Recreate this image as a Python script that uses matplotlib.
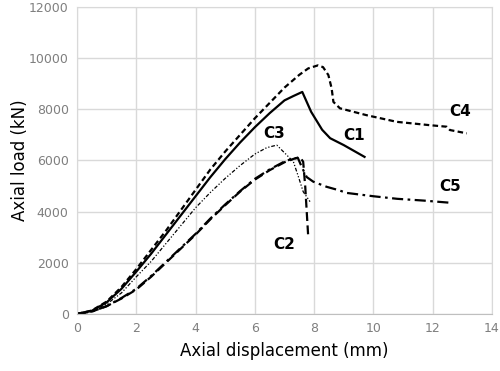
import matplotlib
matplotlib.use("Agg")
import matplotlib.pyplot as plt

# curves (displacement mm, load kN)
c1_x = [0, 0.5, 1.0, 1.5, 2.0, 2.5, 3.0, 3.5, 4.0, 4.5, 5.0, 5.5, 6.0, 6.5, 7.0, 7.3, 7.6, 7.9, 8.27, 8.54, 9.0, 9.7]
c1_y = [0, 120, 450, 980, 1650, 2350, 3100, 3850, 4600, 5350, 6050, 6700, 7300, 7850, 8350, 8520, 8680, 7900, 7200, 6870, 6600, 6140]

c2_x = [0, 0.5, 1.0, 1.5, 2.0, 2.5, 3.0, 3.5, 4.0, 4.5, 5.0, 5.5, 6.0, 6.5, 7.0, 7.3, 7.52, 7.63, 7.7, 7.8]
c2_y = [0, 90, 300, 600, 950, 1450, 2000, 2550, 3100, 3700, 4250, 4780, 5250, 5620, 5930, 6060, 6130, 5950, 4970, 3020]

c3_x = [0, 0.5, 1.0, 1.5, 2.0, 2.5, 3.0, 3.5, 4.0, 4.5, 5.0, 5.5, 6.0, 6.4, 6.74, 7.0, 7.3, 7.47, 7.63, 7.86]
c3_y = [0, 110, 380, 820, 1450, 2050, 2750, 3450, 4150, 4750, 5300, 5800, 6250, 6500, 6600, 6300, 5950, 5360, 4780, 4390]

c4_x = [0, 0.5, 1.0, 1.5, 2.0, 2.5, 3.0, 3.5, 4.0, 4.5, 5.0, 5.5, 6.0, 6.5, 7.0, 7.5, 7.8, 8.13, 8.3,
        8.48, 8.59, 8.65, 8.87, 9.77, 10.79, 11.9, 12.47, 12.58, 13.15]
c4_y = [0, 130, 480, 1050, 1750, 2500, 3250, 4050, 4850, 5650, 6350, 7000, 7650, 8250, 8850, 9350, 9600, 9720, 9650,
        9340, 8820, 8290, 8040, 7770, 7510, 7380, 7320, 7190, 7060]

c5_x = [0, 0.5, 1.0, 1.5, 2.0, 2.5, 3.0, 3.5, 4.0, 4.5, 5.0, 5.5, 6.0, 6.5, 7.0, 7.3, 7.45, 7.6, 7.75,
        7.97, 8.42, 8.82, 9.1, 10.0, 10.8, 11.7, 12.65]
c5_y = [0, 90, 300, 620, 980, 1480, 2030, 2580, 3130, 3730, 4280, 4800, 5280, 5650, 5960, 6080, 6100, 5700, 5350,
        5170, 4970, 4840, 4730, 4600, 4500, 4430, 4340]

x_ticks = [0, 2, 4, 6, 8, 10, 12, 14]
y_ticks = [0, 2000, 4000, 6000, 8000, 10000, 12000]

labels = ["C1", "C2", "C3", "C4", "C5"]
label_x = [9.33, 6.98, 6.65, 12.94, 12.58]
label_y = [6970, 2730, 7070, 7930, 4990]

fig, ax = plt.subplots(figsize=(5, 3.71), dpi=100)
fig.subplots_adjust(left=0.154, right=0.984, top=0.981, bottom=0.154)

ax.plot(c1_x, c1_y, color='black', lw=1.6, ls='-')
ax.plot(c2_x, c2_y, color='black', lw=1.6, ls=(0, (4, 2)))
ax.plot(c3_x, c3_y, color='black', lw=0.9, ls=(0, (3, 1.5, 1, 1.5, 1, 1.5)))
ax.plot(c4_x, c4_y, color='black', lw=1.6, ls=(0, (2.5, 1.5)))
ax.plot(c5_x, c5_y, color='black', lw=1.6, ls=(0, (5, 2, 1.2, 2)))

for t, lx, ly in zip(labels, label_x, label_y):
    ax.text(lx, ly, t, fontsize=11, fontweight='bold', ha='center', va='center')

ax.set_xlim(0, 14)
ax.set_ylim(0, 12000)
ax.set_xticks(x_ticks)
ax.set_yticks(y_ticks)
ax.grid(True, color='#d9d9d9', lw=1)
ax.set_axisbelow(True)
for s in ax.spines.values():
    s.set_color('#d9d9d9')
ax.spines['bottom'].set_color('#bfbfbf')
ax.tick_params(length=0, labelsize=9, labelcolor='#7f7f7f', pad=6)

ax.set_xlabel('Axial displacement (mm)', fontsize=12, labelpad=5)
ax.set_ylabel('Axial load (kN)', fontsize=12, labelpad=0)

fig.savefig('out.png', dpi=100)
